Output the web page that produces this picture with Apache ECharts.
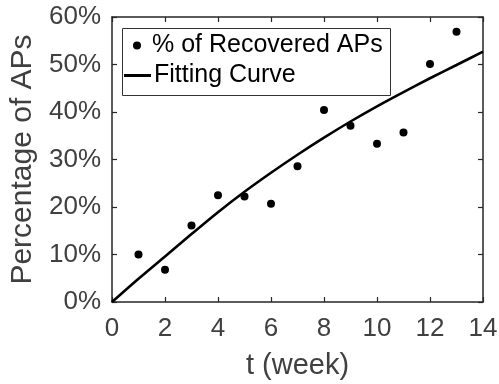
<!DOCTYPE html>
<html>
<head>
<meta charset="utf-8">
<script src="https://cdn.jsdelivr.net/npm/echarts@6/dist/echarts.min.js"></script>
<style>
html,body{margin:0;padding:0;background:#fff;}
#c{width:499px;height:384px;}
</style>
</head>
<body>
<div id="c"></div>
<script>
// Observed data: % of recovered APs per week
const weeks = [1, 2, 3, 4, 5, 6, 7, 8, 9, 10, 11, 12, 13];
const recovered = [10.0, 6.8, 16.1, 22.5, 22.2, 20.7, 28.6, 40.4, 37.1, 33.3, 35.7, 50.1, 56.9];
// Fitting curve
const curveT = [0, 1, 2, 3, 4, 5, 6, 7, 8, 9, 10, 11, 12, 13, 14];
const curveV = [0, 4.9, 9.6, 14.3, 18.9, 23.2, 27.2, 31.0, 34.6, 38.0, 41.2, 44.2, 47.1, 49.9, 52.7];
const xTicks = [0, 2, 4, 6, 8, 10, 12, 14];
const yTicks = [0, 10, 20, 30, 40, 50, 60];

const FONT = 'Liberation Sans, Arial, Helvetica, sans-serif';
const AX = '#262626';
const TXT = '#404040';

const chart = echarts.init(document.getElementById('c'), null, {renderer: 'canvas'});
const gl = 112, gt = 17, gr = 16, gb = 82;

const axisCommon = {
  axisLine: {show: true, onZero: false, lineStyle: {color: AX, width: 1.5}},
  axisTick: {show: true, inside: true, length: 5, lineStyle: {color: AX, width: 1.2}},
  splitLine: {show: false}
};

chart.setOption({
  animation: false,
  backgroundColor: '#fff',
  grid: {left: gl, top: gt, right: gr, bottom: gb, containLabel: false, outerBoundsMode: 'none'},
  xAxis: [
    Object.assign({}, axisCommon, {
      type: 'value', min: 0, max: 14, interval: 2, position: 'bottom',
      name: 't (week)', nameLocation: 'middle', nameGap: 49,
      nameTextStyle: {fontFamily: FONT, fontSize: 29, color: TXT},
      axisLabel: {fontFamily: FONT, fontSize: 26, color: TXT, margin: 14,
        formatter: v => xTicks.includes(v) ? String(v) : ''}
    }),
    Object.assign({}, axisCommon, {
      type: 'value', min: 0, max: 14, interval: 2, position: 'top',
      axisLabel: {show: false}
    })
  ],
  yAxis: [
    Object.assign({}, axisCommon, {
      type: 'value', min: 0, max: 60, interval: 10, position: 'left',
      name: 'Percentage of APs', nameLocation: 'middle', nameGap: 72,
      nameTextStyle: {fontFamily: FONT, fontSize: 30, color: TXT},
      axisLabel: {fontFamily: FONT, fontSize: 26, color: TXT, margin: 11,
        formatter: v => yTicks.includes(v) ? v + '%' : ''}
    }),
    Object.assign({}, axisCommon, {
      type: 'value', min: 0, max: 60, interval: 10, position: 'right',
      axisLabel: {show: false}
    })
  ],
  legend: [
    {
      data: [{name: '% of Recovered APs', icon: 'circle'}],
      orient: 'vertical', left: 133, top: 33,
      itemWidth: 8, itemHeight: 8, itemGap: 0, padding: 0,
      textStyle: {fontFamily: FONT, fontSize: 25, color: '#000', padding: [0, 0, 0, 6]},
      selectedMode: false
    },
    {
      data: [{name: 'Fitting Curve', icon: 'rect'}],
      orient: 'vertical', left: 124, top: 63,
      itemWidth: 27, itemHeight: 3, itemGap: 0, padding: 0,
      textStyle: {fontFamily: FONT, fontSize: 25, color: '#000', padding: [0, 0, 0, -2]},
      selectedMode: false
    }
  ],
  graphic: [{
    type: 'rect', left: 120, top: 26, z: 10,
    shape: {width: 268, height: 67},
    style: {fill: 'none', stroke: '#333', lineWidth: 1},
    silent: true
  }],
  series: [
    {
      name: 'Fitting Curve', type: 'line', xAxisIndex: 0, yAxisIndex: 0,
      data: curveT.map((t, i) => [t, curveV[i]]),
      smooth: 0.3, showSymbol: false, symbol: 'none',
      lineStyle: {color: '#000', width: 2.6, opacity: 1},
      itemStyle: {color: '#000', opacity: 1}, z: 3
    },
    {
      name: '% of Recovered APs', type: 'scatter', xAxisIndex: 0, yAxisIndex: 0,
      data: weeks.map((t, i) => [t, recovered[i]]),
      symbol: 'circle', symbolSize: 8,
      itemStyle: {color: '#000', opacity: 1}, z: 4
    }
  ]
});
</script>
</body>
</html>
